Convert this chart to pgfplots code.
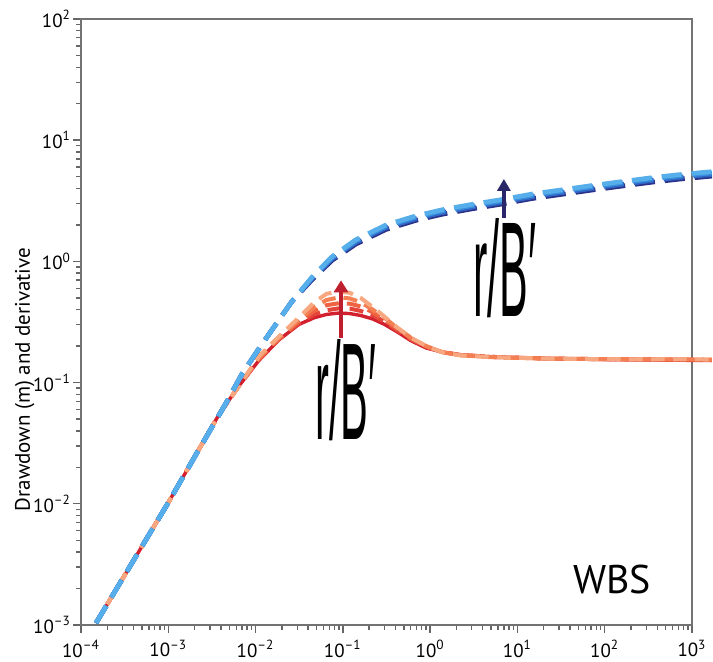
\documentclass[border=0pt]{standalone}
\usepackage{fontspec}
\setmainfont{PT Sans}
\newfontfamily\annfont{Liberation Sans}
\usepackage{pgfplots}
\pgfplotsset{compat=1.18}
\usetikzlibrary{arrows.meta}
\definecolor{b1}{HTML}{56AEEA}
\definecolor{b2}{HTML}{3A8FDD}
\definecolor{b3}{HTML}{2F66C4}
\definecolor{b4}{HTML}{2B3088}
\definecolor{r1}{HTML}{F8A880}
\definecolor{r2}{HTML}{F47F52}
\definecolor{r3}{HTML}{EE6442}
\definecolor{r4}{HTML}{E4443A}
\definecolor{rs}{HTML}{D3202E}
\definecolor{arrR}{HTML}{BE1E2D}
\definecolor{arrB}{HTML}{2A2768}
\newcommand{\lbl}[1]{10\textsuperscript{#1}}
\begin{document}
\begin{tikzpicture}
\begin{axis}[
  name=ax, scale only axis, width=305.5pt, height=303pt,
  xmode=log, ymode=log, xmin=1e-4, xmax=1e3, ymin=1e-3, ymax=1e2,
  clip=false,
  axis line style={black!55, line width=0.9pt},
  tick style={black!60, line width=0.7pt},
  tick align=outside, tick pos=left,
  major tick length=4pt, minor tick length=2.5pt,
  xtick={1e-4,1e-3,1e-2,1e-1,1,10,100,1000},
  xticklabels={\lbl{–4},\lbl{–3},\lbl{–2},\lbl{–1},\lbl{0},\lbl{1},\lbl{2},\lbl{3}},
  ytick={1e-3,1e-2,1e-1,1,10,100},
  yticklabels={\lbl{–3},\lbl{–2},\lbl{–1},\lbl{0},\lbl{1},\lbl{2}},
  minor xtick={2e-4,3e-4,4e-4,5e-4,6e-4,7e-4,8e-4,9e-4,2e-3,3e-3,4e-3,5e-3,6e-3,7e-3,8e-3,9e-3,2e-2,3e-2,4e-2,5e-2,6e-2,7e-2,8e-2,9e-2,0.2,0.3,0.4,0.5,0.6,0.7,0.8,0.9,2,3,4,5,6,7,8,9,20,30,40,50,60,70,80,90,200,300,400,500,600,700,800,900},
  minor ytick={2e-3,3e-3,4e-3,5e-3,6e-3,7e-3,8e-3,9e-3,2e-2,3e-2,4e-2,5e-2,6e-2,7e-2,8e-2,9e-2,0.2,0.3,0.4,0.5,0.6,0.7,0.8,0.9,2,3,4,5,6,7,8,9,20,30,40,50,60,70,80,90},
  ticklabel style={font=\fontsize{9.5}{9.5}\selectfont},
  yticklabel style={xshift=2.5pt},
  ylabel={Drawdown (m) and derivative},
  ylabel style={at={(axis description cs:-0.092,0.405)}, anchor=center, font=\fontsize{10.5}{10.5}\selectfont},
]
% solid red derivative
\addplot[rs, line width=1.7pt] coordinates {
(1.486e-4,1.038e-3)(5.01e-4,4.47e-3)(1e-3,0.01023)(2.25e-3,0.0282)(3.81e-3,0.0545)(6.46e-3,0.094)(0.0109,0.152)(0.0185,0.225)(0.0314,0.302)(0.047,0.343)(0.065,0.365)(0.09,0.375)(0.12,0.371)(0.16,0.358)(0.22,0.335)(0.3,0.302)(0.42,0.262)(0.6,0.222)(0.9,0.193)(1.4,0.178)(2.2,0.170)(5,0.163)(20,0.158)(100,0.155)(1690,0.152)};
% dashed derivative family
\addplot[r4, line width=2pt, dash pattern=on 7pt off 4pt] coordinates {
(1.486e-4,1.038e-3)(5.01e-4,4.47e-3)(1e-3,0.01023)(2.25e-3,0.0282)(3.81e-3,0.0545)(6.46e-3,0.094)(0.0109,0.155)(0.0185,0.228)(0.0314,0.31)(0.047,0.365)(0.065,0.395)(0.09,0.41)(0.12,0.408)(0.16,0.39)(0.22,0.36)(0.3,0.318)(0.42,0.27)(0.6,0.228)(0.9,0.197)(1.4,0.178)(2.2,0.169)(5,0.163)(20,0.158)(100,0.156)(1690,0.154)};
\addplot[r3, line width=2pt, dash pattern=on 7pt off 4pt] coordinates {
(1.486e-4,1.038e-3)(5.01e-4,4.47e-3)(1e-3,0.01023)(2.25e-3,0.0282)(3.81e-3,0.0545)(6.46e-3,0.094)(0.0109,0.157)(0.0185,0.23)(0.0314,0.32)(0.047,0.39)(0.065,0.435)(0.09,0.452)(0.12,0.448)(0.16,0.425)(0.22,0.38)(0.3,0.33)(0.42,0.278)(0.6,0.232)(0.9,0.199)(1.4,0.178)(2.2,0.169)(5,0.163)(20,0.158)(100,0.156)(1690,0.154)};
\addplot[r2, line width=2pt, dash pattern=on 7pt off 4pt] coordinates {
(1.486e-4,1.038e-3)(5.01e-4,4.47e-3)(1e-3,0.01023)(2.25e-3,0.0282)(3.81e-3,0.0545)(6.46e-3,0.094)(0.0109,0.16)(0.0185,0.235)(0.0314,0.33)(0.047,0.42)(0.065,0.48)(0.09,0.505)(0.12,0.495)(0.16,0.46)(0.22,0.40)(0.3,0.342)(0.42,0.283)(0.6,0.235)(0.9,0.2)(1.4,0.178)(2.2,0.168)(5,0.162)(20,0.158)(100,0.156)(1690,0.155)};
\addplot[r1, line width=2pt, dash pattern=on 7pt off 4pt] coordinates {
(1.486e-4,1.038e-3)(5.01e-4,4.47e-3)(1e-3,0.01023)(2.25e-3,0.0282)(3.81e-3,0.0545)(6.46e-3,0.094)(0.0109,0.165)(0.0185,0.24)(0.0314,0.345)(0.047,0.46)(0.065,0.54)(0.09,0.565)(0.12,0.55)(0.16,0.50)(0.22,0.42)(0.3,0.35)(0.42,0.285)(0.6,0.235)(0.9,0.2)(1.4,0.177)(2.2,0.168)(5,0.162)(20,0.158)(100,0.156)(1690,0.155)};
% blue drawdown family
\addplot[b4, line width=2.3pt, dash pattern=on 10pt off 5pt] coordinates {
(1.486e-4,1.038e-3)(5.01e-4,4.47e-3)(1e-3,0.01023)(2.25e-3,0.0282)(4.58e-3,0.0676)(6.98e-3,0.1175)(0.01094,0.1905)(0.01542,0.2723)(0.02612,0.4677)(0.04426,0.704)(0.07499,1.018)(0.1413,1.390)(0.3119,1.833)(0.6871,2.178)(1.365,2.444)(3.013,2.711)(6.653,2.972)(14.66,3.298)(32.36,3.574)(71.29,3.874)(157.4,4.179)(346.7,4.499)(707.9,4.766)(1690,5.048)};
\addplot[b3, line width=2.3pt, dash pattern=on 10pt off 5pt] coordinates {
(1.486e-4,1.038e-3)(5.01e-4,4.47e-3)(1e-3,0.01023)(2.25e-3,0.0282)(4.58e-3,0.0676)(6.98e-3,0.1175)(0.01094,0.1905)(0.01542,0.2723)(0.02612,0.4677)(0.04426,0.719)(0.07499,1.045)(0.1413,1.435)(0.3119,1.892)(0.6871,2.247)(1.365,2.522)(3.013,2.797)(6.653,3.067)(14.66,3.403)(32.36,3.688)(71.29,3.997)(157.4,4.313)(346.7,4.642)(707.9,4.918)(1690,5.209)};
\addplot[b2, line width=2.3pt, dash pattern=on 10pt off 5pt] coordinates {
(1.486e-4,1.038e-3)(5.01e-4,4.47e-3)(1e-3,0.01023)(2.25e-3,0.0282)(4.58e-3,0.0676)(6.98e-3,0.1175)(0.01094,0.1905)(0.01542,0.2723)(0.02612,0.4677)(0.04426,0.7328)(0.07499,1.072)(0.1413,1.479)(0.3119,1.950)(0.6871,2.317)(1.365,2.600)(3.013,2.884)(6.653,3.162)(14.66,3.508)(32.36,3.802)(71.29,4.121)(157.4,4.446)(346.7,4.786)(707.9,5.070)(1690,5.370)};
\addplot[b1, line width=2.3pt, dash pattern=on 10pt off 5pt] coordinates {
(1.486e-4,1.038e-3)(5.01e-4,4.47e-3)(1e-3,0.01023)(2.25e-3,0.0282)(4.58e-3,0.0676)(6.98e-3,0.1175)(0.01094,0.1905)(0.01542,0.2723)(0.02612,0.4677)(0.04426,0.742)(0.07499,1.094)(0.1413,1.513)(0.3119,1.999)(0.6871,2.375)(1.365,2.665)(3.013,2.956)(6.653,3.241)(14.66,3.596)(32.36,3.897)(71.29,4.224)(157.4,4.557)(346.7,4.906)(707.9,5.197)(1690,5.504)};
% annotations
\draw[arrR, line width=2.3pt, -{Triangle[width=7pt,length=6pt]}] (axis cs:0.0953,0.234) -- (axis cs:0.0953,0.698);
\draw[arrB, line width=2pt, -{Triangle[width=6.5pt,length=6pt]}] (axis cs:7.0,2.30) -- (axis cs:7.0,4.79);
\node[inner sep=0pt, anchor=center] at (axis cs:7.19,0.877) {\resizebox{31.5pt}{49pt}{\annfont r/B′}};
\node[inner sep=0pt, anchor=center] at (axis cs:0.108,0.0859) {\resizebox{30.5pt}{50pt}{\annfont r/B′}};
\node[anchor=center, inner sep=0pt, font=\fontsize{20}{20}\selectfont] at (axis cs:121,2.38e-3) {WBS};
\end{axis}
\pgfresetboundingbox
\path[use as bounding box] ([xshift=-40.5pt,yshift=-18.5pt]ax.south west) rectangle ([xshift=10.5pt,yshift=9.5pt]ax.north east);
\end{tikzpicture}
\end{document}
